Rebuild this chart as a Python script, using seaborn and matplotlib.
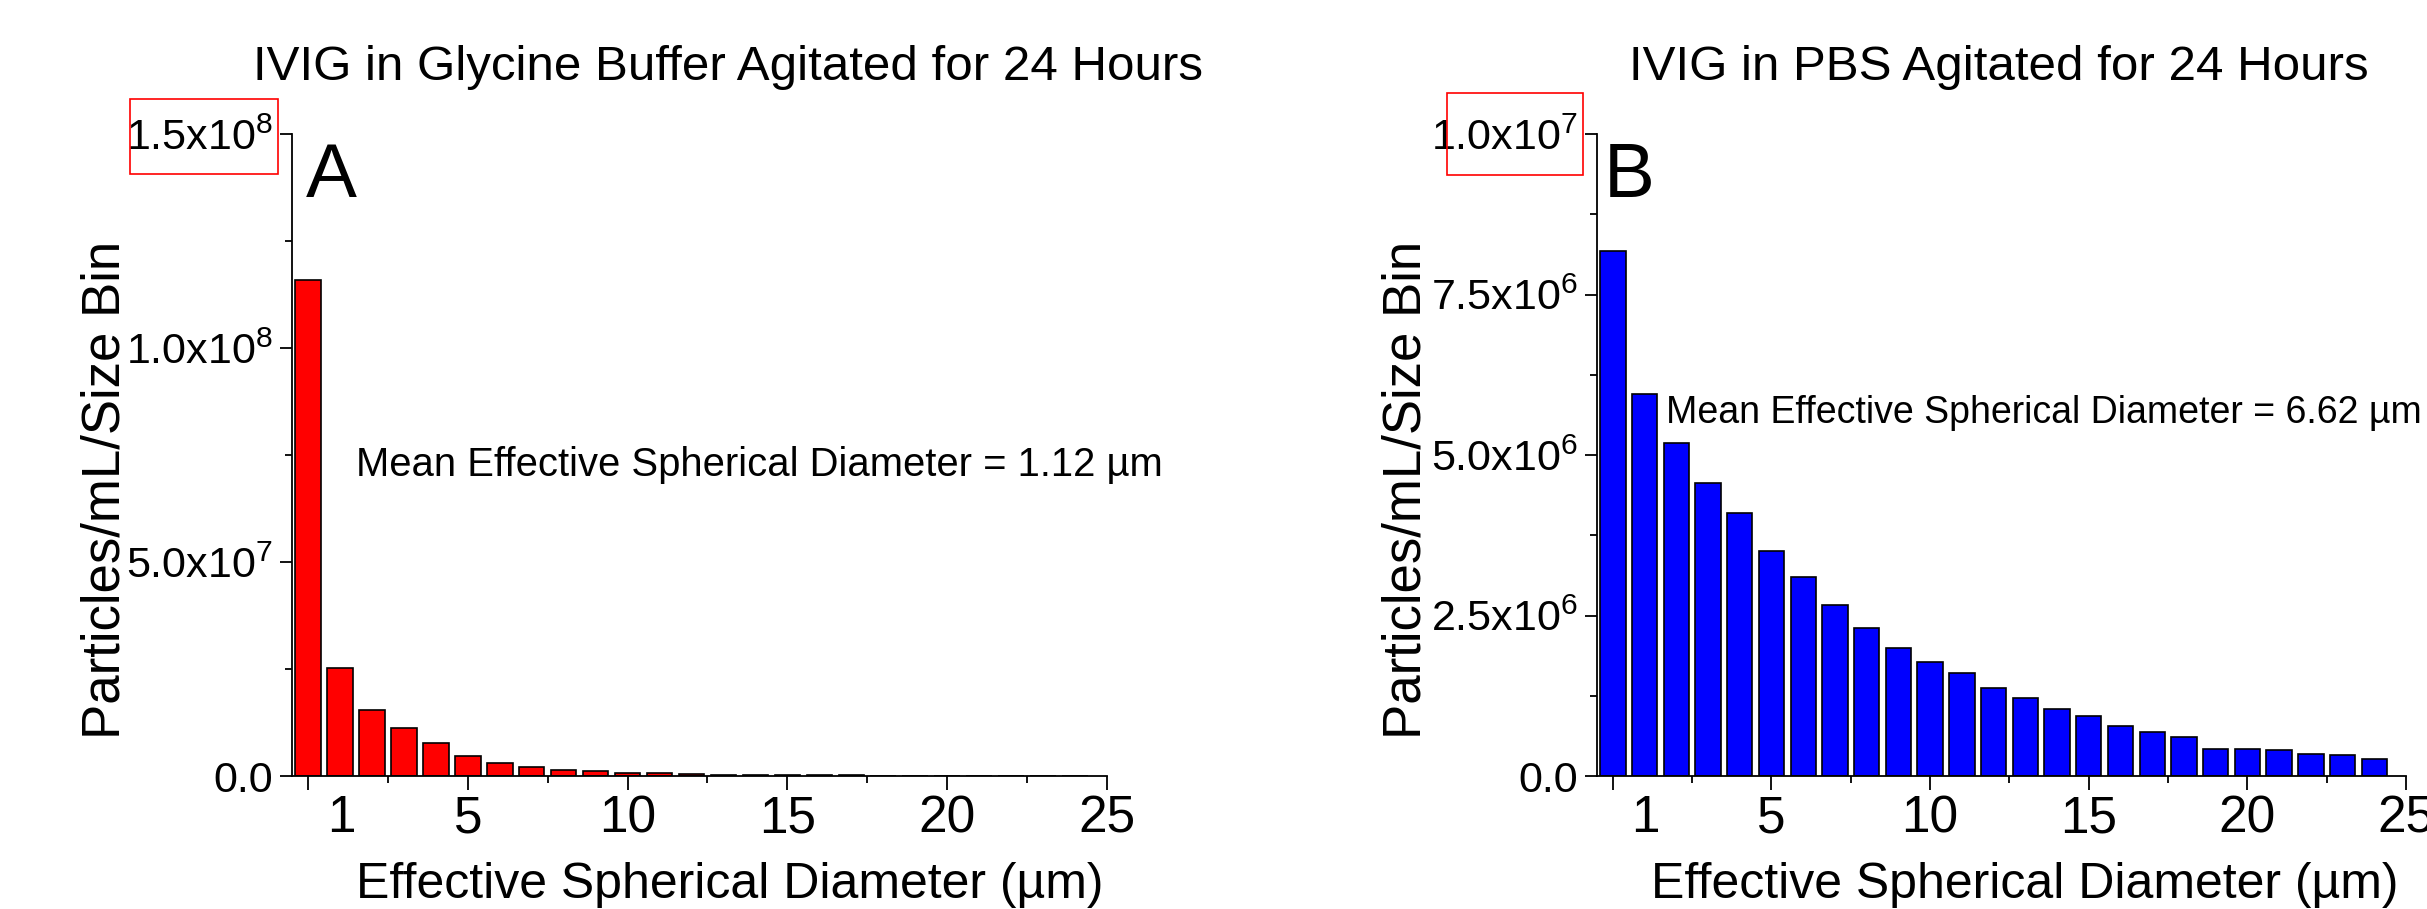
import matplotlib
matplotlib.use('Agg')
import matplotlib.pyplot as plt
from matplotlib.patches import Rectangle
from matplotlib.transforms import ScaledTranslation
import seaborn as sns
import pandas as pd

# --- Data ---
size_bins = [1, 2, 3, 4, 5, 6, 7, 8, 9, 10, 11, 12, 13,
             14, 15, 16, 17, 18, 19, 20, 21, 22, 23, 24, 25]

glycine_counts = [1.16e8, 2.53e7, 1.55e7, 1.13e7, 7.6e6, 4.7e6, 3.05e6, 2.2e6,
                  1.4e6, 1.1e6, 7.8e5, 6.2e5, 4.2e5, 3.5e5, 3.0e5, 2.0e5,
                  1.5e5, 1.2e5, 9e4, 7e4, 5e4, 4e4, 3e4, 2e4, 1e4]

pbs_counts = [8.18e6, 5.95e6, 5.19e6, 4.57e6, 4.09e6, 3.51e6, 3.10e6, 2.67e6,
              2.30e6, 2.00e6, 1.78e6, 1.60e6, 1.37e6, 1.21e6, 1.04e6, 9.3e5,
              7.8e5, 6.9e5, 6.0e5, 4.15e5, 4.25e5, 4.0e5, 3.45e5, 3.2e5, 2.7e5]

xtick_labels = ['1', '5', '10', '15', '20', '25']

glycine_yticks = [0, 5e7, 1e8, 1.5e8]
glycine_ytick_labels = ['0.0', '5.0x10$^{7}$', '1.0x10$^{8}$', '1.5x10$^{8}$']
glycine_yminor = [2.5e7, 7.5e7, 1.25e8]

pbs_yticks = [0, 2.5e6, 5e6, 7.5e6, 1e7]
pbs_ytick_labels = ['0.0', '2.5x10$^{6}$', '5.0x10$^{6}$', '7.5x10$^{6}$', '1.0x10$^{7}$']
pbs_yminor = [1.25e6, 3.75e6, 6.25e6, 8.75e6]

titles = ['IVIG in Glycine Buffer Agitated for 24 Hours',
          'IVIG in PBS Agitated for 24 Hours']
panel_letters = ['A', 'B']
mean_notes = ['Mean Effective Spherical Diameter = 1.12 \u00b5m',
              'Mean Effective Spherical Diameter = 6.62 \u00b5m']
xlabel = 'Effective Spherical Diameter (\u00b5m)'
ylabel = 'Particles/mL/Size Bin'

# --- Style ---
sns.set_theme(style='ticks')
plt.rcParams['font.family'] = ['Liberation Sans', 'DejaVu Sans']
plt.rcParams['mathtext.default'] = 'regular'
plt.rcParams['axes.edgecolor'] = 'black'
plt.rcParams['text.color'] = 'black'
plt.rcParams['axes.labelcolor'] = 'black'
plt.rcParams['xtick.color'] = 'black'
plt.rcParams['ytick.color'] = 'black'
plt.rcParams['xtick.labelcolor'] = 'black'
plt.rcParams['ytick.labelcolor'] = 'black'

W, H = 2427, 909
fig = plt.figure(figsize=(W / 100, H / 100), dpi=100)


def fx(px):
    return px / W


def fy(py):
    return 1 - py / H


ax_a = fig.add_axes([fx(292), fy(776), (1107 - 292) / W, 642 / H])
ax_b = fig.add_axes([fx(1597), fy(776), (2406 - 1597) / W, 642 / H])

panels = [
    (ax_a, glycine_counts, '#ff0000', glycine_yticks, glycine_ytick_labels, glycine_yminor, 1.5e8),
    (ax_b, pbs_counts, '#0000ff', pbs_yticks, pbs_ytick_labels, pbs_yminor, 1e7),
]

for ax, counts, colour, yt, ytl, ymin, ytop in panels:
    df = pd.DataFrame({'bin': size_bins, 'count': counts})
    sns.barplot(data=df, x='bin', y='count', color=colour, saturation=1,
                edgecolor='black', linewidth=1.2, width=0.8, ax=ax)
    ax.set_xlim(-0.5, 25)
    ax.set_ylim(0, ytop)
    ax.set_xlabel('')
    ax.set_ylabel('')
    sns.despine(ax=ax)
    for side in ['left', 'bottom']:
        ax.spines[side].set_linewidth(1.3)
        ax.spines[side].set_color('black')

    ax.set_yticks(yt, ytl)
    ax.set_yticks(ymin, minor=True)
    ax.set_xticks([0, 5, 10, 15, 20, 25], xtick_labels)
    ax.set_xticks([2.5, 7.5, 12.5, 17.5, 22.5], minor=True)

    ax.tick_params(axis='y', which='major', length=9, width=1.3, labelsize=31, pad=5)
    ax.tick_params(axis='y', which='minor', length=5, width=1.3)
    ax.tick_params(axis='x', which='major', length=10, width=1.3, labelsize=37, pad=3)
    ax.tick_params(axis='x', which='minor', length=5, width=1.3)

    # the "1" label sits one bin to the right of its tick mark
    first = ax.get_xticklabels()[0]
    first.set_transform(first.get_transform() + ScaledTranslation(0.33, 0, fig.dpi_scale_trans))

# --- Text ---
fig.text(fx(728), fy(80), titles[0], fontsize=35.5, ha='center', va='baseline')
fig.text(fx(1999), fy(80), titles[1], fontsize=35.5, ha='center', va='baseline')

fig.text(fx(306), fy(197), panel_letters[0], fontsize=55, ha='left', va='baseline')
fig.text(fx(1604), fy(197), panel_letters[1], fontsize=55, ha='left', va='baseline')

fig.text(fx(356), fy(476), mean_notes[0], fontsize=28.8, ha='left', va='baseline')
fig.text(fx(1666), fy(423), mean_notes[1], fontsize=27, ha='left', va='baseline')

fig.text(fx(730), fy(898), xlabel, fontsize=36, ha='center', va='baseline')
fig.text(fx(2025), fy(898), xlabel, fontsize=36, ha='center', va='baseline')

fig.text(fx(106), fy(490), ylabel, fontsize=38, rotation=90, ha='center', va='center')
fig.text(fx(1406), fy(490), ylabel, fontsize=38, rotation=90, ha='center', va='center')

# red boxes around the top y tick labels
for x0, y0, x1, y1 in [(130, 99, 278, 174), (1447, 93, 1583, 175)]:
    fig.add_artist(Rectangle((fx(x0), fy(y1)), (x1 - x0) / W, (y1 - y0) / H,
                             transform=fig.transFigure, fill=False,
                             edgecolor='red', linewidth=1.2))

fig.savefig('out.png', dpi=100, facecolor='white')
